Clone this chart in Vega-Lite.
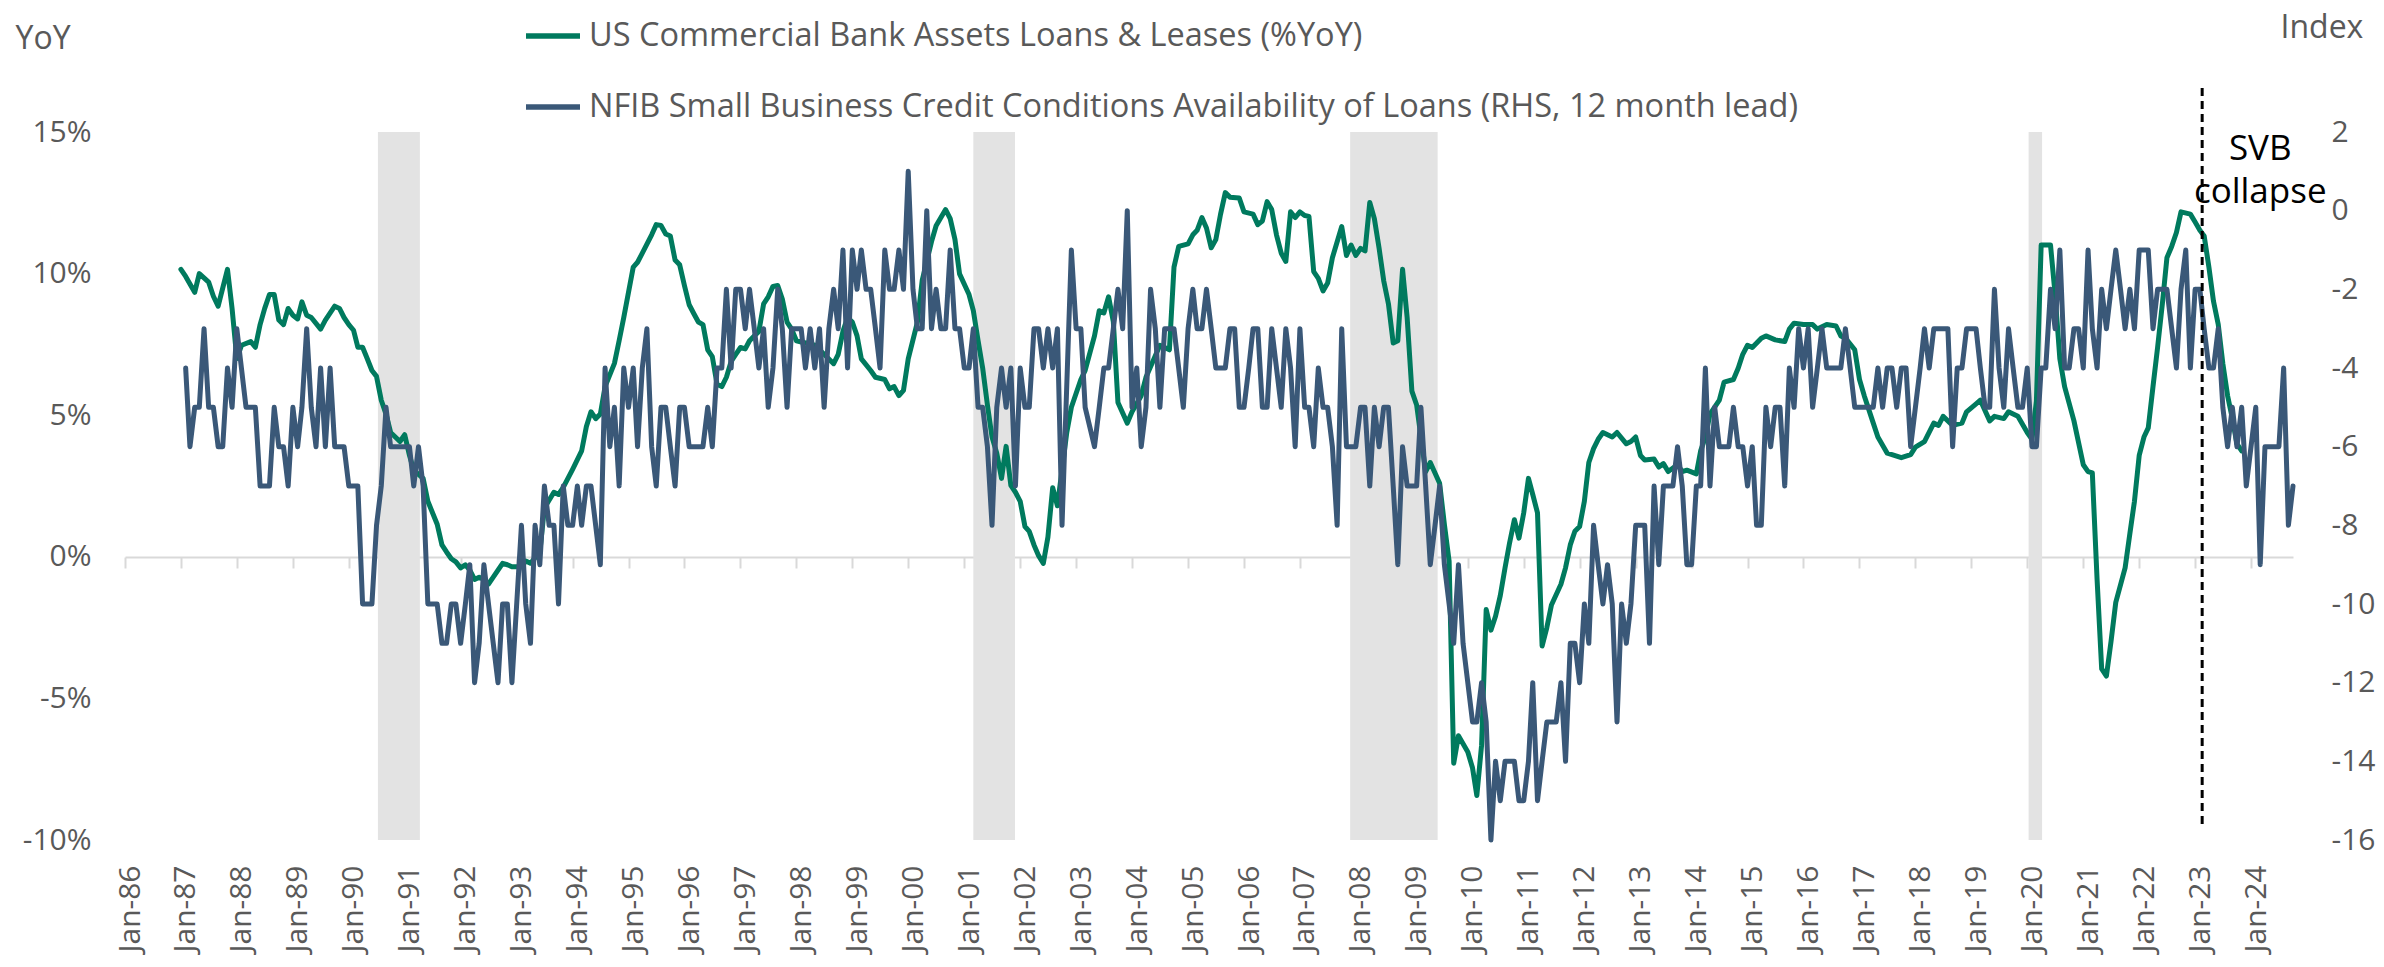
{
"$schema": "https://vega.github.io/schema/vega-lite/v6.json",
"autosize": "none",
"width": 2168,
"height": 708,
"padding": {"left": 125, "top": 132, "right": 91, "bottom": 127},
"background": "white",
"config": {"view": {"stroke": null}, "font": "Open Sans"},
"datasets": {
"rec": [
{"s":"1990-07-10","e":"1991-04-10"},
{"s":"2001-03-01","e":"2001-11-28"},
{"s":"2007-11-25","e":"2009-06-18"},
{"s":"2020-01-10","e":"2020-04-07"}
],
"svb": [{"event":"SVB collapse"}],
"green": [
{"d":"1987-01","v":10.15},{"d":"1987-02","v":9.9},{"d":"1987-04","v":9.34},{"d":"1987-05","v":10.0},{"d":"1987-07","v":9.7},{"d":"1987-08","v":9.2},{"d":"1987-09","v":8.85},{"d":"1987-11","v":10.15},{"d":"1987-12","v":8.77},
{"d":"1988-01","v":7.0},{"d":"1988-02","v":7.47},{"d":"1988-04","v":7.6},{"d":"1988-05","v":7.4},{"d":"1988-06","v":8.2},{"d":"1988-07","v":8.77},{"d":"1988-08","v":9.26},{"d":"1988-09","v":9.26},{"d":"1988-10","v":8.36},{"d":"1988-11","v":8.2},{"d":"1988-12","v":8.77},
{"d":"1989-01","v":8.53},{"d":"1989-02","v":8.4},{"d":"1989-03","v":9.0},{"d":"1989-04","v":8.53},{"d":"1989-05","v":8.45},{"d":"1989-07","v":8.04},{"d":"1989-08","v":8.36},{"d":"1989-10","v":8.85},{"d":"1989-11","v":8.77},{"d":"1989-12","v":8.45},
{"d":"1990-01","v":8.2},{"d":"1990-02","v":8.0},{"d":"1990-03","v":7.4},{"d":"1990-04","v":7.4},{"d":"1990-05","v":7.0},{"d":"1990-06","v":6.58},{"d":"1990-07","v":6.37},{"d":"1990-08","v":5.53},{"d":"1990-09","v":5.04},{"d":"1990-10","v":4.39},{"d":"1990-12","v":4.07},
{"d":"1991-01","v":4.31},{"d":"1991-02","v":3.58},{"d":"1991-03","v":3.06},{"d":"1991-05","v":2.77},{"d":"1991-06","v":1.96},{"d":"1991-08","v":1.15},{"d":"1991-09","v":0.42},{"d":"1991-10","v":0.17},{"d":"1991-11","v":-0.07},{"d":"1991-12","v":-0.18},
{"d":"1992-01","v":-0.39},{"d":"1992-02","v":-0.28},{"d":"1992-03","v":-0.47},{"d":"1992-04","v":-0.8},{"d":"1992-05","v":-0.72},{"d":"1992-06","v":-0.8},{"d":"1992-07","v":-0.96},{"d":"1992-08","v":-0.72},{"d":"1992-09","v":-0.47},{"d":"1992-10","v":-0.23},{"d":"1992-11","v":-0.28},{"d":"1992-12","v":-0.35},
{"d":"1993-02","v":-0.35},{"d":"1993-03","v":-0.15},{"d":"1993-04","v":-0.23},{"d":"1993-06","v":0.17},{"d":"1993-07","v":1.72},{"d":"1993-09","v":2.28},{"d":"1993-10","v":2.2},{"d":"1993-11","v":2.45},
{"d":"1994-01","v":3.09},{"d":"1994-03","v":3.74},{"d":"1994-04","v":4.6},{"d":"1994-05","v":5.12},{"d":"1994-06","v":4.88},{"d":"1994-07","v":5.04},{"d":"1994-08","v":6.01},{"d":"1994-10","v":6.83},{"d":"1994-11","v":7.64},{"d":"1994-12","v":8.45},
{"d":"1995-02","v":10.23},{"d":"1995-03","v":10.4},{"d":"1995-04","v":10.72},{"d":"1995-06","v":11.37},{"d":"1995-07","v":11.73},{"d":"1995-08","v":11.7},{"d":"1995-09","v":11.4},{"d":"1995-10","v":11.33},{"d":"1995-11","v":10.48},{"d":"1995-12","v":10.31},
{"d":"1996-01","v":9.58},{"d":"1996-02","v":8.9},{"d":"1996-03","v":8.6},{"d":"1996-04","v":8.29},{"d":"1996-05","v":8.2},{"d":"1996-06","v":7.31},{"d":"1996-07","v":7.07},{"d":"1996-08","v":6.09},{"d":"1996-09","v":6.01},{"d":"1996-10","v":6.34},{"d":"1996-11","v":6.9},{"d":"1996-12","v":7.15},
{"d":"1997-01","v":7.39},{"d":"1997-02","v":7.34},{"d":"1997-03","v":7.63},{"d":"1997-05","v":7.96},{"d":"1997-06","v":8.93},{"d":"1997-07","v":9.18},{"d":"1997-08","v":9.55},{"d":"1997-09","v":9.58},{"d":"1997-10","v":9.1},{"d":"1997-11","v":8.29},{"d":"1997-12","v":8.04},
{"d":"1998-01","v":7.63},{"d":"1998-03","v":7.55},{"d":"1998-05","v":7.47},{"d":"1998-07","v":7.15},{"d":"1998-09","v":6.82},{"d":"1998-10","v":7.15},{"d":"1998-11","v":7.96},{"d":"1998-12","v":8.45},
{"d":"1999-01","v":8.29},{"d":"1999-02","v":7.8},{"d":"1999-03","v":6.99},{"d":"1999-05","v":6.58},{"d":"1999-06","v":6.34},{"d":"1999-08","v":6.26},{"d":"1999-09","v":5.93},{"d":"1999-10","v":6.01},{"d":"1999-11","v":5.69},{"d":"1999-12","v":5.88},
{"d":"2000-01","v":6.99},{"d":"2000-03","v":8.29},{"d":"2000-04","v":9.75},{"d":"2000-06","v":11.13},{"d":"2000-07","v":11.69},{"d":"2000-09","v":12.26},{"d":"2000-10","v":11.94},{"d":"2000-11","v":11.21},{"d":"2000-12","v":9.99},
{"d":"2001-02","v":9.26},{"d":"2001-03","v":8.69},{"d":"2001-04","v":7.63},{"d":"2001-05","v":6.66},{"d":"2001-06","v":5.36},{"d":"2001-07","v":4.23},{"d":"2001-08","v":3.66},{"d":"2001-09","v":2.77},{"d":"2001-10","v":3.9},{"d":"2001-11","v":2.52},{"d":"2001-12","v":2.28},
{"d":"2002-01","v":1.96},{"d":"2002-02","v":1.07},{"d":"2002-03","v":0.9},{"d":"2002-04","v":0.42},{"d":"2002-05","v":0.04},{"d":"2002-06","v":-0.23},{"d":"2002-07","v":0.7},{"d":"2002-08","v":2.44},{"d":"2002-09","v":1.8},{"d":"2002-11","v":4.39},{"d":"2002-12","v":5.28},
{"d":"2003-02","v":6.26},{"d":"2003-03","v":6.58},{"d":"2003-05","v":7.8},{"d":"2003-06","v":8.69},{"d":"2003-07","v":8.61},{"d":"2003-08","v":9.18},{"d":"2003-09","v":8.3},{"d":"2003-10","v":5.45},{"d":"2003-12","v":4.72},
{"d":"2004-01","v":5.12},{"d":"2004-03","v":5.69},{"d":"2004-04","v":6.34},{"d":"2004-07","v":7.47},{"d":"2004-09","v":7.31},{"d":"2004-10","v":10.23},{"d":"2004-11","v":10.96},
{"d":"2005-01","v":11.05},{"d":"2005-02","v":11.37},{"d":"2005-03","v":11.53},{"d":"2005-04","v":11.98},{"d":"2005-05","v":11.61},{"d":"2005-06","v":10.91},{"d":"2005-07","v":11.2},{"d":"2005-08","v":12.1},{"d":"2005-09","v":12.86},{"d":"2005-10","v":12.7},{"d":"2005-12","v":12.67},
{"d":"2006-01","v":12.18},{"d":"2006-03","v":12.1},{"d":"2006-04","v":11.73},{"d":"2006-05","v":11.86},{"d":"2006-06","v":12.54},{"d":"2006-07","v":12.26},{"d":"2006-08","v":11.37},{"d":"2006-09","v":10.72},{"d":"2006-10","v":10.43},{"d":"2006-11","v":12.18},{"d":"2006-12","v":11.98},
{"d":"2007-01","v":12.18},{"d":"2007-02","v":12.05},{"d":"2007-03","v":12.02},{"d":"2007-04","v":10.07},{"d":"2007-05","v":9.83},{"d":"2007-06","v":9.39},{"d":"2007-07","v":9.67},{"d":"2007-08","v":10.56},{"d":"2007-10","v":11.66},{"d":"2007-11","v":10.64},{"d":"2007-12","v":11.01},
{"d":"2008-01","v":10.64},{"d":"2008-02","v":10.89},{"d":"2008-03","v":10.8},{"d":"2008-04","v":12.51},{"d":"2008-05","v":11.94},{"d":"2008-06","v":10.89},{"d":"2008-07","v":9.75},{"d":"2008-08","v":8.93},{"d":"2008-09","v":7.55},{"d":"2008-10","v":7.63},{"d":"2008-11","v":10.15},{"d":"2008-12","v":8.45},
{"d":"2009-01","v":5.85},{"d":"2009-02","v":5.36},{"d":"2009-03","v":4.23},{"d":"2009-04","v":3.01},{"d":"2009-05","v":3.33},{"d":"2009-07","v":2.6},{"d":"2009-08","v":1.15},{"d":"2009-09","v":-0.15},{"d":"2009-10","v":-7.29},{"d":"2009-11","v":-6.32},
{"d":"2010-01","v":-6.89},{"d":"2010-02","v":-7.46},{"d":"2010-03","v":-8.43},{"d":"2010-04","v":-6.65},{"d":"2010-05","v":-1.86},{"d":"2010-06","v":-2.59},{"d":"2010-07","v":-2.1},{"d":"2010-08","v":-1.37},{"d":"2010-09","v":-0.39},{"d":"2010-10","v":0.5},{"d":"2010-11","v":1.31},{"d":"2010-12","v":0.66},
{"d":"2011-01","v":1.55},{"d":"2011-02","v":2.77},{"d":"2011-03","v":2.2},{"d":"2011-04","v":1.55},{"d":"2011-05","v":-3.15},{"d":"2011-06","v":-2.5},{"d":"2011-07","v":-1.7},{"d":"2011-09","v":-0.97},{"d":"2011-10","v":-0.39},{"d":"2011-11","v":0.42},{"d":"2011-12","v":0.9},
{"d":"2012-01","v":1.07},{"d":"2012-02","v":1.96},{"d":"2012-03","v":3.33},{"d":"2012-04","v":3.82},{"d":"2012-05","v":4.15},{"d":"2012-06","v":4.39},{"d":"2012-08","v":4.23},{"d":"2012-09","v":4.39},{"d":"2012-11","v":3.99},{"d":"2012-12","v":4.07},
{"d":"2013-01","v":4.23},{"d":"2013-02","v":3.58},{"d":"2013-03","v":3.42},{"d":"2013-05","v":3.45},{"d":"2013-06","v":3.17},{"d":"2013-07","v":3.29},{"d":"2013-08","v":3.01},{"d":"2013-10","v":3.25},{"d":"2013-11","v":3.01},{"d":"2013-12","v":3.06},
{"d":"2014-02","v":2.93},{"d":"2014-03","v":3.74},{"d":"2014-04","v":4.23},{"d":"2014-05","v":5.04},{"d":"2014-07","v":5.53},{"d":"2014-08","v":6.17},{"d":"2014-10","v":6.26},{"d":"2014-11","v":6.66},{"d":"2014-12","v":7.15},
{"d":"2015-01","v":7.47},{"d":"2015-02","v":7.39},{"d":"2015-04","v":7.72},{"d":"2015-05","v":7.8},{"d":"2015-07","v":7.66},{"d":"2015-09","v":7.6},{"d":"2015-10","v":8.04},{"d":"2015-11","v":8.25},
{"d":"2016-01","v":8.2},{"d":"2016-03","v":8.2},{"d":"2016-04","v":8.04},{"d":"2016-06","v":8.2},{"d":"2016-08","v":8.15},{"d":"2016-09","v":7.8},{"d":"2016-10","v":7.72},{"d":"2016-12","v":7.31},
{"d":"2017-01","v":6.26},{"d":"2017-02","v":5.69},{"d":"2017-04","v":4.72},{"d":"2017-05","v":4.23},{"d":"2017-07","v":3.66},{"d":"2017-08","v":3.61},{"d":"2017-10","v":3.5},{"d":"2017-12","v":3.61},
{"d":"2018-01","v":3.87},{"d":"2018-03","v":4.07},{"d":"2018-05","v":4.72},{"d":"2018-06","v":4.64},{"d":"2018-07","v":4.96},{"d":"2018-09","v":4.64},{"d":"2018-11","v":4.72},{"d":"2018-12","v":5.12},
{"d":"2019-02","v":5.4},{"d":"2019-03","v":5.53},{"d":"2019-05","v":4.8},{"d":"2019-06","v":4.96},{"d":"2019-08","v":4.88},{"d":"2019-09","v":5.12},{"d":"2019-10","v":5.04},{"d":"2019-11","v":4.96},
{"d":"2020-01","v":4.39},{"d":"2020-02","v":4.15},{"d":"2020-03","v":5.5},{"d":"2020-04","v":11.01},{"d":"2020-06","v":11.01},{"d":"2020-07","v":9.26},{"d":"2020-08","v":6.99},{"d":"2020-09","v":6.01},{"d":"2020-11","v":4.8},
{"d":"2021-01","v":3.25},{"d":"2021-02","v":3.01},{"d":"2021-03","v":2.96},{"d":"2021-04","v":-0.8},{"d":"2021-05","v":-3.96},{"d":"2021-06","v":-4.21},{"d":"2021-07","v":-2.99},{"d":"2021-08","v":-1.61},{"d":"2021-10","v":-0.39},{"d":"2021-11","v":0.82},{"d":"2021-12","v":1.96},
{"d":"2022-01","v":3.58},{"d":"2022-02","v":4.23},{"d":"2022-03","v":4.55},{"d":"2022-04","v":6.01},{"d":"2022-05","v":7.39},{"d":"2022-06","v":8.93},{"d":"2022-07","v":10.56},{"d":"2022-08","v":10.96},{"d":"2022-09","v":11.45},{"d":"2022-10","v":12.18},{"d":"2022-12","v":12.1},
{"d":"2023-01","v":11.82},{"d":"2023-02","v":11.53},{"d":"2023-03","v":11.33},{"d":"2023-04","v":10.23},{"d":"2023-05","v":9.02},{"d":"2023-06","v":8.2},{"d":"2023-07","v":6.82},{"d":"2023-08","v":5.69},{"d":"2023-09","v":4.88},{"d":"2023-10","v":3.99},{"d":"2023-11","v":3.74}
],
"blue": [
{"d":"1987-02","v":-4},{"d":"1987-03","v":-6},{"d":"1987-04","v":-5},{"d":"1987-05","v":-5},{"d":"1987-06","v":-3},{"d":"1987-07","v":-5},{"d":"1987-08","v":-5},{"d":"1987-09","v":-6},{"d":"1987-10","v":-6},{"d":"1987-11","v":-4},{"d":"1987-12","v":-5},
{"d":"1988-01","v":-3},{"d":"1988-03","v":-5},{"d":"1988-05","v":-5},{"d":"1988-06","v":-7},{"d":"1988-08","v":-7},{"d":"1988-09","v":-5},{"d":"1988-10","v":-6},{"d":"1988-11","v":-6},{"d":"1988-12","v":-7},
{"d":"1989-01","v":-5},{"d":"1989-02","v":-6},{"d":"1989-03","v":-5},{"d":"1989-04","v":-3},{"d":"1989-05","v":-5},{"d":"1989-06","v":-6},{"d":"1989-07","v":-4},{"d":"1989-08","v":-6},{"d":"1989-09","v":-4},{"d":"1989-10","v":-6},{"d":"1989-12","v":-6},
{"d":"1990-01","v":-7},{"d":"1990-03","v":-7},{"d":"1990-04","v":-10},{"d":"1990-06","v":-10},{"d":"1990-07","v":-8},{"d":"1990-08","v":-7},{"d":"1990-09","v":-5},{"d":"1990-10","v":-6},
{"d":"1991-02","v":-6},{"d":"1991-03","v":-7},{"d":"1991-04","v":-6},{"d":"1991-05","v":-7},{"d":"1991-06","v":-10},{"d":"1991-08","v":-10},{"d":"1991-09","v":-11},{"d":"1991-10","v":-11},{"d":"1991-11","v":-10},{"d":"1991-12","v":-10},
{"d":"1992-01","v":-11},{"d":"1992-02","v":-10},{"d":"1992-03","v":-9},{"d":"1992-04","v":-12},{"d":"1992-05","v":-11},{"d":"1992-06","v":-9},{"d":"1992-07","v":-10},{"d":"1992-08","v":-11},{"d":"1992-09","v":-12},{"d":"1992-10","v":-10},{"d":"1992-11","v":-10},{"d":"1992-12","v":-12},
{"d":"1993-02","v":-8},{"d":"1993-03","v":-10},{"d":"1993-04","v":-11},{"d":"1993-05","v":-8},{"d":"1993-06","v":-9},{"d":"1993-07","v":-7},{"d":"1993-08","v":-8},{"d":"1993-09","v":-8},{"d":"1993-10","v":-10},{"d":"1993-11","v":-7},{"d":"1993-12","v":-8},
{"d":"1994-01","v":-8},{"d":"1994-02","v":-7},{"d":"1994-03","v":-8},{"d":"1994-04","v":-7},{"d":"1994-05","v":-7},{"d":"1994-07","v":-9},{"d":"1994-08","v":-4},{"d":"1994-09","v":-6},{"d":"1994-10","v":-5},{"d":"1994-11","v":-7},{"d":"1994-12","v":-4},
{"d":"1995-01","v":-5},{"d":"1995-02","v":-4},{"d":"1995-03","v":-6},{"d":"1995-04","v":-4},{"d":"1995-05","v":-3},{"d":"1995-06","v":-6},{"d":"1995-07","v":-7},{"d":"1995-08","v":-5},{"d":"1995-09","v":-5},{"d":"1995-10","v":-6},{"d":"1995-11","v":-7},{"d":"1995-12","v":-5},
{"d":"1996-01","v":-5},{"d":"1996-02","v":-6},{"d":"1996-03","v":-6},{"d":"1996-04","v":-6},{"d":"1996-05","v":-6},{"d":"1996-06","v":-5},{"d":"1996-07","v":-6},{"d":"1996-08","v":-4},{"d":"1996-09","v":-4},{"d":"1996-10","v":-2},{"d":"1996-11","v":-4},{"d":"1996-12","v":-2},
{"d":"1997-01","v":-2},{"d":"1997-02","v":-3},{"d":"1997-03","v":-2},{"d":"1997-04","v":-3},{"d":"1997-05","v":-4},{"d":"1997-06","v":-3},{"d":"1997-07","v":-5},{"d":"1997-08","v":-4},{"d":"1997-09","v":-2},{"d":"1997-10","v":-3},{"d":"1997-11","v":-5},{"d":"1997-12","v":-3},
{"d":"1998-02","v":-3},{"d":"1998-03","v":-4},{"d":"1998-04","v":-3},{"d":"1998-05","v":-4},{"d":"1998-06","v":-3},{"d":"1998-07","v":-5},{"d":"1998-08","v":-3},{"d":"1998-09","v":-2},{"d":"1998-10","v":-3},{"d":"1998-11","v":-1},{"d":"1998-12","v":-4},
{"d":"1999-01","v":-1},{"d":"1999-02","v":-2},{"d":"1999-03","v":-1},{"d":"1999-04","v":-2},{"d":"1999-05","v":-2},{"d":"1999-06","v":-3},{"d":"1999-07","v":-4},{"d":"1999-08","v":-1},{"d":"1999-09","v":-2},{"d":"1999-10","v":-2},{"d":"1999-11","v":-1},{"d":"1999-12","v":-2},
{"d":"2000-01","v":1},{"d":"2000-02","v":-2},{"d":"2000-03","v":-3},{"d":"2000-04","v":-3},{"d":"2000-05","v":0},{"d":"2000-06","v":-3},{"d":"2000-07","v":-2},{"d":"2000-08","v":-3},{"d":"2000-09","v":-3},{"d":"2000-10","v":-1},{"d":"2000-11","v":-3},{"d":"2000-12","v":-3},
{"d":"2001-01","v":-4},{"d":"2001-02","v":-4},{"d":"2001-03","v":-3},{"d":"2001-04","v":-5},{"d":"2001-05","v":-5},{"d":"2001-06","v":-6},{"d":"2001-07","v":-8},{"d":"2001-08","v":-5},{"d":"2001-09","v":-4},{"d":"2001-10","v":-5},{"d":"2001-11","v":-4},{"d":"2001-12","v":-7},
{"d":"2002-01","v":-4},{"d":"2002-02","v":-5},{"d":"2002-03","v":-5},{"d":"2002-04","v":-3},{"d":"2002-05","v":-3},{"d":"2002-06","v":-4},{"d":"2002-07","v":-3},{"d":"2002-08","v":-4},{"d":"2002-09","v":-3},{"d":"2002-10","v":-8},{"d":"2002-12","v":-1},
{"d":"2003-01","v":-3},{"d":"2003-02","v":-3},{"d":"2003-03","v":-5},{"d":"2003-05","v":-6},{"d":"2003-06","v":-5},{"d":"2003-07","v":-4},{"d":"2003-08","v":-4},{"d":"2003-09","v":-3},{"d":"2003-10","v":-2},{"d":"2003-11","v":-3},{"d":"2003-12","v":0},
{"d":"2004-01","v":-5},{"d":"2004-02","v":-4},{"d":"2004-03","v":-6},{"d":"2004-04","v":-5},{"d":"2004-05","v":-2},{"d":"2004-06","v":-3},{"d":"2004-07","v":-5},{"d":"2004-08","v":-3},{"d":"2004-09","v":-3},{"d":"2004-10","v":-3},{"d":"2004-12","v":-5},
{"d":"2005-01","v":-3},{"d":"2005-02","v":-2},{"d":"2005-03","v":-3},{"d":"2005-04","v":-3},{"d":"2005-05","v":-2},{"d":"2005-06","v":-3},{"d":"2005-07","v":-4},{"d":"2005-08","v":-4},{"d":"2005-09","v":-4},{"d":"2005-10","v":-3},{"d":"2005-11","v":-3},{"d":"2005-12","v":-5},
{"d":"2006-01","v":-5},{"d":"2006-02","v":-4},{"d":"2006-03","v":-3},{"d":"2006-04","v":-3},{"d":"2006-05","v":-5},{"d":"2006-06","v":-5},{"d":"2006-07","v":-3},{"d":"2006-08","v":-4},{"d":"2006-09","v":-5},{"d":"2006-10","v":-3},{"d":"2006-11","v":-4},{"d":"2006-12","v":-6},
{"d":"2007-01","v":-3},{"d":"2007-02","v":-5},{"d":"2007-03","v":-5},{"d":"2007-04","v":-6},{"d":"2007-05","v":-4},{"d":"2007-06","v":-5},{"d":"2007-07","v":-5},{"d":"2007-08","v":-6},{"d":"2007-09","v":-8},{"d":"2007-10","v":-3},{"d":"2007-11","v":-6},{"d":"2007-12","v":-6},
{"d":"2008-01","v":-6},{"d":"2008-02","v":-5},{"d":"2008-03","v":-5},{"d":"2008-04","v":-7},{"d":"2008-05","v":-5},{"d":"2008-06","v":-6},{"d":"2008-07","v":-5},{"d":"2008-08","v":-5},{"d":"2008-09","v":-7},{"d":"2008-10","v":-9},{"d":"2008-11","v":-6},{"d":"2008-12","v":-7},
{"d":"2009-01","v":-7},{"d":"2009-02","v":-7},{"d":"2009-03","v":-5},{"d":"2009-04","v":-7},{"d":"2009-05","v":-9},{"d":"2009-06","v":-8},{"d":"2009-07","v":-7},{"d":"2009-08","v":-9},{"d":"2009-09","v":-10},{"d":"2009-10","v":-11},{"d":"2009-11","v":-9},{"d":"2009-12","v":-11},
{"d":"2010-01","v":-12},{"d":"2010-02","v":-13},{"d":"2010-03","v":-13},{"d":"2010-04","v":-12},{"d":"2010-05","v":-13},{"d":"2010-06","v":-16},{"d":"2010-07","v":-14},{"d":"2010-08","v":-15},{"d":"2010-09","v":-14},{"d":"2010-10","v":-14},{"d":"2010-11","v":-14},{"d":"2010-12","v":-15},
{"d":"2011-01","v":-15},{"d":"2011-02","v":-14},{"d":"2011-03","v":-12},{"d":"2011-04","v":-15},{"d":"2011-05","v":-14},{"d":"2011-06","v":-13},{"d":"2011-07","v":-13},{"d":"2011-08","v":-13},{"d":"2011-09","v":-12},{"d":"2011-10","v":-14},{"d":"2011-11","v":-11},{"d":"2011-12","v":-11},
{"d":"2012-01","v":-12},{"d":"2012-02","v":-10},{"d":"2012-03","v":-11},{"d":"2012-04","v":-8},{"d":"2012-05","v":-9},{"d":"2012-06","v":-10},{"d":"2012-07","v":-9},{"d":"2012-08","v":-10},{"d":"2012-09","v":-13},{"d":"2012-10","v":-10},{"d":"2012-11","v":-11},{"d":"2012-12","v":-10},
{"d":"2013-01","v":-8},{"d":"2013-02","v":-8},{"d":"2013-03","v":-8},{"d":"2013-04","v":-11},{"d":"2013-05","v":-7},{"d":"2013-06","v":-9},{"d":"2013-07","v":-7},{"d":"2013-08","v":-7},{"d":"2013-09","v":-7},{"d":"2013-10","v":-6},{"d":"2013-11","v":-7},{"d":"2013-12","v":-9},
{"d":"2014-01","v":-9},{"d":"2014-02","v":-7},{"d":"2014-03","v":-7},{"d":"2014-04","v":-4},{"d":"2014-05","v":-7},{"d":"2014-06","v":-5},{"d":"2014-07","v":-6},{"d":"2014-08","v":-6},{"d":"2014-09","v":-6},{"d":"2014-10","v":-5},{"d":"2014-11","v":-6},{"d":"2014-12","v":-6},
{"d":"2015-01","v":-7},{"d":"2015-02","v":-6},{"d":"2015-03","v":-8},{"d":"2015-04","v":-8},{"d":"2015-05","v":-5},{"d":"2015-06","v":-6},{"d":"2015-07","v":-5},{"d":"2015-08","v":-5},{"d":"2015-09","v":-7},{"d":"2015-10","v":-4},{"d":"2015-11","v":-5},{"d":"2015-12","v":-3},
{"d":"2016-01","v":-4},{"d":"2016-02","v":-3},{"d":"2016-03","v":-5},{"d":"2016-04","v":-4},{"d":"2016-05","v":-3},{"d":"2016-06","v":-4},{"d":"2016-09","v":-4},{"d":"2016-10","v":-3},{"d":"2016-11","v":-4},{"d":"2016-12","v":-5},
{"d":"2017-04","v":-5},{"d":"2017-05","v":-4},{"d":"2017-06","v":-5},{"d":"2017-07","v":-4},{"d":"2017-08","v":-4},{"d":"2017-09","v":-5},{"d":"2017-10","v":-4},{"d":"2017-11","v":-4},{"d":"2017-12","v":-6},
{"d":"2018-01","v":-5},{"d":"2018-02","v":-4},{"d":"2018-03","v":-3},{"d":"2018-04","v":-4},{"d":"2018-05","v":-3},{"d":"2018-08","v":-3},{"d":"2018-09","v":-6},{"d":"2018-10","v":-4},{"d":"2018-11","v":-4},{"d":"2018-12","v":-3},
{"d":"2019-02","v":-3},{"d":"2019-03","v":-4},{"d":"2019-04","v":-5},{"d":"2019-05","v":-5},{"d":"2019-06","v":-2},{"d":"2019-07","v":-4},{"d":"2019-08","v":-5},{"d":"2019-09","v":-3},{"d":"2019-10","v":-4},{"d":"2019-11","v":-5},{"d":"2019-12","v":-5},
{"d":"2020-01","v":-4},{"d":"2020-02","v":-6},{"d":"2020-03","v":-6},{"d":"2020-04","v":-4},{"d":"2020-05","v":-4},{"d":"2020-06","v":-2},{"d":"2020-07","v":-3},{"d":"2020-08","v":-1},{"d":"2020-09","v":-4},{"d":"2020-10","v":-4},{"d":"2020-11","v":-3},{"d":"2020-12","v":-3},
{"d":"2021-01","v":-4},{"d":"2021-02","v":-1},{"d":"2021-03","v":-3},{"d":"2021-04","v":-4},{"d":"2021-05","v":-2},{"d":"2021-06","v":-3},{"d":"2021-07","v":-2},{"d":"2021-08","v":-1},{"d":"2021-09","v":-2},{"d":"2021-10","v":-3},{"d":"2021-11","v":-2},{"d":"2021-12","v":-3},
{"d":"2022-01","v":-1},{"d":"2022-03","v":-1},{"d":"2022-04","v":-3},{"d":"2022-05","v":-2},{"d":"2022-07","v":-2},{"d":"2022-08","v":-3},{"d":"2022-09","v":-4},{"d":"2022-10","v":-2},{"d":"2022-11","v":-1},{"d":"2022-12","v":-4},
{"d":"2023-01","v":-2},{"d":"2023-02","v":-2},{"d":"2023-03","v":-3},{"d":"2023-04","v":-4},{"d":"2023-05","v":-4},{"d":"2023-06","v":-3},{"d":"2023-07","v":-5},{"d":"2023-08","v":-6},{"d":"2023-09","v":-5},{"d":"2023-10","v":-6},{"d":"2023-11","v":-5},{"d":"2023-12","v":-7},
{"d":"2024-01","v":-6},{"d":"2024-02","v":-5},{"d":"2024-03","v":-9},{"d":"2024-04","v":-6},{"d":"2024-07","v":-6},{"d":"2024-08","v":-4},{"d":"2024-09","v":-8},{"d":"2024-10","v":-7}
]
},
"resolve": {"scale": {"y": "independent"}, "axis": {"x": "independent", "y": "independent"}},
"layer": [
{
"data": {"name": "rec"},
"mark": {"type": "rect", "color": "#E3E3E3"},
"encoding": {
"x": {"field": "s", "type": "temporal",
"scale": {"type": "utc", "domain": [{"year": 1986, "month": 1, "date": 1, "utc": true}, {"year": 2024, "month": 10, "date": 1, "utc": true}]},
"axis": {"orient": "bottom", "offset": -283, "title": null, "labels": false, "grid": false, "domain": true, "domainColor": "#D9D9D9", "domainWidth": 2, "ticks": true, "tickColor": "#D9D9D9", "tickWidth": 2, "tickSize": 11, "tickCount": {"interval": "year", "step": 1}}},
"x2": {"field": "e"}
}
},
{
"data": {"name": "green"},
"mark": {"type": "line", "strokeWidth": 5, "strokeJoin": "round", "strokeCap": "round"},
"encoding": {
"x": {"field": "d", "type": "temporal",
"axis": {"orient": "bottom", "title": null, "format": "%b-%y", "tickCount": {"interval": "year", "step": 1}, "labelAngle": -90, "labelAlign": "right", "labelBaseline": "middle", "labelPadding": 25, "labelOffset": 5, "ticks": false, "tickSize": 0, "domain": false, "grid": false, "labelFontSize": 30, "labelColor": "#595959", "labelFont": "Open Sans", "labelOverlap": false, "labelFlush": false, "labelBound": false}},
"y": {"field": "v", "type": "quantitative",
"scale": {"domain": [-10, 15], "nice": false, "zero": false},
"axis": {"orient": "left", "values": [-10, -5, 0, 5, 10, 15], "labelExpr": "datum.value + '%'", "domain": false, "ticks": false, "tickSize": 0, "grid": false, "labelPadding": 34, "labelFontSize": 30, "labelColor": "#595959", "labelFont": "Open Sans", "title": "YoY", "titleAngle": 0, "titleAlign": "left", "titleBaseline": "alphabetic", "titleX": -110, "titleY": -84, "titleFontSize": 32, "titleFontWeight": "normal", "titleColor": "#595959", "titleFont": "Open Sans"}},
"color": {"datum": "US Commercial Bank Assets Loans & Leases (%YoY)", "type": "nominal",
"scale": {"domain": ["US Commercial Bank Assets Loans & Leases (%YoY)", "NFIB Small Business Credit Conditions Availability of Loans (RHS, 12 month lead)"], "range": ["#007A5E", "#3A5878"]},
"legend": {"orient": "none", "legendX": 398, "legendY": -126, "direction": "vertical", "title": null, "symbolType": "stroke", "symbolSize": 2916, "symbolStrokeWidth": 5.5, "labelFontSize": 32.5, "labelColor": "#595959", "labelFont": "Open Sans", "labelLimit": 3000, "labelOffset": 6, "rowPadding": 24, "padding": 0}}
}
},
{
"data": {"name": "blue"},
"mark": {"type": "line", "strokeWidth": 5, "strokeJoin": "round", "strokeCap": "round"},
"encoding": {
"x": {"field": "d", "type": "temporal", "axis": null},
"y": {"field": "v", "type": "quantitative",
"scale": {"domain": [-16, 2], "nice": false, "zero": false},
"axis": {"orient": "right", "values": [-16, -14, -12, -10, -8, -6, -4, -2, 0, 2], "labelExpr": "'' + datum.value", "labelAlign": "left", "domain": false, "ticks": false, "tickSize": 0, "grid": false, "labelPadding": 38, "labelFontSize": 30, "labelColor": "#595959", "labelFont": "Open Sans", "title": "Index", "titleAngle": 0, "titleAlign": "left", "titleBaseline": "alphabetic", "titleX": -13, "titleY": -95, "titleFontSize": 32, "titleFontWeight": "normal", "titleColor": "#595959", "titleFont": "Open Sans"}},
"color": {"datum": "NFIB Small Business Credit Conditions Availability of Loans (RHS, 12 month lead)", "type": "nominal"}
}
},
{
"data": {"name": "svb"},
"mark": {"type": "rule", "color": "black", "strokeWidth": 3, "strokeDash": [8, 5]},
"encoding": {
"x": {"datum": {"year": 2023, "month": 2, "date": 16, "utc": true}, "type": "temporal", "axis": null},
"y": {"datum": 16.55, "type": "quantitative", "scale": {"domain": [-10, 15], "nice": false, "zero": false}, "axis": null},
"y2": {"datum": -9.61}
}
},
{
"data": {"name": "svb"},
"mark": {"type": "text", "text": ["SVB", "collapse"], "align": "center", "baseline": "alphabetic", "fontSize": 35, "lineHeight": 43, "color": "black", "font": "Open Sans"},
"encoding": {
"x": {"datum": {"year": 2024, "month": 3, "date": 1, "utc": true}, "type": "temporal", "axis": null},
"y": {"datum": 14.0, "type": "quantitative", "scale": {"domain": [-10, 15], "nice": false, "zero": false}, "axis": null}
}
}
]
}
